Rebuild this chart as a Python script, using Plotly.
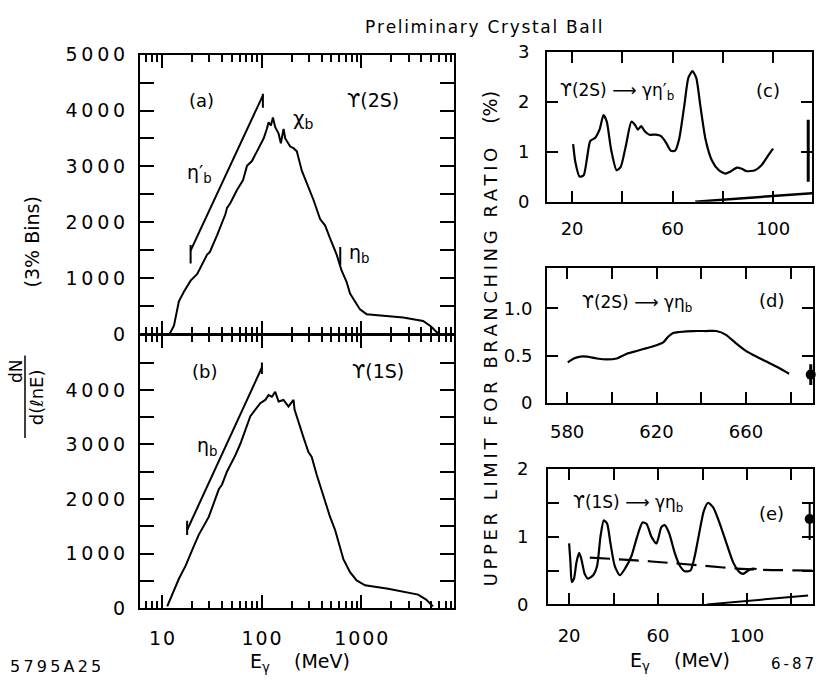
import plotly.graph_objects as go

W, H = 817, 688

# ---------------- data ----------------
# (a) Upsilon(2S) inclusive photon spectrum
a_E = [11.9, 13.2, 14.8, 16.6, 19.4, 22.6, 28.4, 30.2, 35.7, 43.3, 45, 48.6, 56.6, 65, 71.3,
       80, 89.8, 104.7, 113, 117.5, 124, 129.8, 137, 148, 156, 166, 172.6, 193.6, 209, 225.5,
       253, 284, 331, 386, 434, 486, 566, 635, 713, 771, 865, 970, 1130, 1660, 2630, 4170, 5010, 5890]
a_N = [0, 155, 590, 760, 960, 1078, 1424, 1470, 1770, 2145, 2261, 2348, 2578, 2751, 3010,
       3097, 3270, 3500, 3673, 3789, 3732, 3875, 3702, 3587, 3413, 3673, 3500, 3356, 3327, 3270,
       2924, 2694, 2405, 2059, 1943, 1713, 1424, 1137, 935, 730, 590, 445, 360, 330, 300, 240, 140, 15]
# (b) Upsilon(1S) inclusive photon spectrum
b_E = [11.3, 12.2, 14.8, 17.3, 19.4, 20.9, 23.4, 24.9, 29.5, 37.2, 40.1, 45, 54.6, 61.2, 68.7,
       77.1, 86.5, 97, 108.9, 117.5, 126.8, 137, 148, 166, 186, 209, 214, 234, 263, 295, 318,
       357, 401, 433, 486, 546, 620, 661, 771, 898, 1090, 1860, 3720, 4470, 5250]
b_N = [35, 185, 540, 780, 1020, 1138, 1345, 1434, 1673, 2179, 2268, 2505, 2804, 3013, 3280,
       3518, 3637, 3755, 3816, 3905, 3875, 3964, 3786, 3816, 3696, 3816, 3638, 3398, 3130, 2863, 2773,
       2446, 2148, 1970, 1673, 1434, 1100, 900, 660, 510, 420, 357, 250, 160, 35]
# search-range indicators
a_range_E = [19.4, 103]
a_range_N = [1495, 4270]
b_range_E = [17.9, 100.7]
b_range_N = [1434, 4410]
a_etab_mark_E = [615, 615]
a_etab_mark_N = [1245, 1560]

# (c) Upsilon(2S) -> gamma eta_b'
c_E = [20.4, 21.3, 23, 24.6, 25.9, 27.2, 29.2, 30.9, 32.5, 33.8, 35.5, 37.7, 39.3, 41.4, 43.6,
       45, 46.2, 47.5, 48.9, 50.8, 53.4, 55.4, 57.4, 59.3, 61, 62.6, 64.6, 66.3, 67.9, 69.4,
       71.1, 73.1, 75.7, 78.4, 81, 83, 85.6, 87.5, 89.5, 92.8, 95.4, 98, 100]
c_BR = [1.15, 0.79, 0.5, 0.53, 0.86, 1.21, 1.28, 1.44, 1.73, 1.6, 1.05, 0.63, 0.69, 1.12, 1.6,
        1.54, 1.44, 1.51, 1.41, 1.34, 1.34, 1.31, 1.18, 1.02, 1.02, 1.25, 1.9, 2.48, 2.61, 2.48,
        1.9, 1.25, 0.82, 0.63, 0.56, 0.6, 0.68, 0.66, 0.61, 0.63, 0.73, 0.92, 1.06]
c_theory_E = [69, 115.5]
c_theory_BR = [0.0, 0.17]
c_bar_E = [114, 114]
c_bar_BR = [0.4, 1.64]

# (d) Upsilon(2S) -> gamma eta_b
d_E = [580.3, 583, 585.9, 588.9, 593.3, 597.8, 602.2, 606.7, 611.1, 615.6, 620, 623, 625.2, 627.4,
       630.4, 636.3, 642.2, 646.7, 651.1, 655.6, 660, 663, 668.9, 674.8, 679.3]
d_BR = [0.43, 0.47, 0.49, 0.49, 0.47, 0.46, 0.47, 0.52, 0.55, 0.58, 0.61, 0.64, 0.70, 0.74,
        0.75, 0.76, 0.76, 0.76, 0.72, 0.63, 0.55, 0.51, 0.44, 0.37, 0.31]
d_pt_E = [689]
d_pt_BR = [0.30]
d_pt_err = [0.11]

# (e) Upsilon(1S) -> gamma eta_b
e_E = [20, 20.6, 21.2, 22.2, 23.3, 24.5, 25.5, 27, 28.5, 30.8, 32.6, 34.1, 35.6, 37.1, 38.6,
       40.5, 42.8, 45, 48, 50.6, 53, 54.8, 57, 59.3, 61.5, 63, 65, 67.5, 69.8, 72,
       74.6, 76.5, 78.8, 80.6, 82.5, 84.8, 87.8, 90.8, 93.8, 96.5, 98.3, 100.5, 102.8, 104.3]
e_BR = [0.9, 0.62, 0.33, 0.38, 0.62, 0.76, 0.67, 0.45, 0.38, 0.43, 0.57, 1.0, 1.24, 1.19, 0.9,
        0.57, 0.43, 0.52, 0.71, 1.0, 1.21, 1.19, 1.0, 0.9, 1.14, 1.17, 1.05, 0.76, 0.57, 0.49,
        0.5, 0.71, 1.1, 1.38, 1.5, 1.43, 1.19, 0.9, 0.62, 0.48, 0.45, 0.5, 0.53, 0.52]
e_dash_E = [29.3, 50, 70, 100, 129.7]
e_dash_BR = [0.69, 0.65, 0.6, 0.52, 0.5]
e_theory_E = [82, 127.5]
e_theory_BR = [0.0, 0.13]
e_pt_E = [128.2]
e_pt_BR = [1.26]
e_pt_up = [0.22]
e_pt_dn = [0.31]

# tick labels
left_y_vals = [0, 500, 1000, 1500, 2000, 2500, 3000, 3500, 4000, 4500, 5000]
left_x_vals = [10, 100, 1000]
left_x_minor = [6, 7, 8, 9] + [k * 10 for k in range(2, 10)] + [k * 100 for k in range(2, 10)] + [k * 1000 for k in range(2, 10)]
c_xvals, c_yvals = [20, 40, 60, 80, 100], [0, 1, 2, 3]
d_xvals, d_yvals = [580, 600, 620, 640, 660, 680], [0, 0.5, 1.0]
e_xvals, e_yvals = [20, 40, 60, 80, 100, 120], [0, 0.5, 1, 1.5, 2]

FONT = "DejaVu Sans"
TS = "\u2009"   # thin space
HS = "\u200a"   # hair space


def spaced(s, sep=TS):
    return sep.join(s)


def xd(x0, x1):
    return [x0 / W, x1 / W]


def yd(y0, y1):
    return [1 - y1 / H, 1 - y0 / H]


fig = go.Figure()
line = dict(color="black", width=2)

# left panels
fig.add_trace(go.Scatter(x=a_E, y=a_N, mode="lines", line=line, xaxis="x", yaxis="y"))
fig.add_trace(go.Scatter(x=b_E, y=b_N, mode="lines", line=line, xaxis="x2", yaxis="y2"))
fig.add_trace(go.Scatter(x=a_range_E, y=a_range_N, mode="lines", line=line, xaxis="x", yaxis="y",
                         error_y=dict(type="data", array=[100, 30], arrayminus=[230, 220],
                                      width=0, thickness=2, color="black")))
fig.add_trace(go.Scatter(x=b_range_E, y=b_range_N, mode="lines", line=line, xaxis="x2", yaxis="y2",
                         error_y=dict(type="data", array=[170, 90], arrayminus=[90, 120],
                                      width=0, thickness=2, color="black")))
fig.add_trace(go.Scatter(x=a_etab_mark_E, y=a_etab_mark_N, mode="lines", line=line, xaxis="x", yaxis="y"))

# right panels
spl = dict(color="black", width=2.2, shape="spline", smoothing=0.6)
fig.add_trace(go.Scatter(x=c_E, y=c_BR, mode="lines", line=spl, xaxis="x3", yaxis="y3"))
fig.add_trace(go.Scatter(x=c_theory_E, y=c_theory_BR, mode="lines", line=dict(color="black", width=2.5),
                         xaxis="x3", yaxis="y3"))
fig.add_trace(go.Scatter(x=c_bar_E, y=c_bar_BR, mode="lines", line=dict(color="black", width=3),
                         xaxis="x3", yaxis="y3", cliponaxis=False))

fig.add_trace(go.Scatter(x=d_E, y=d_BR, mode="lines", line=spl, xaxis="x4", yaxis="y4"))
fig.add_trace(go.Scatter(x=d_pt_E, y=d_pt_BR, mode="markers", marker=dict(color="black", size=10),
                         error_y=dict(type="data", array=d_pt_err, width=0, thickness=3, color="black"),
                         xaxis="x4", yaxis="y4", cliponaxis=False))

fig.add_trace(go.Scatter(x=e_E, y=e_BR, mode="lines", line=spl, xaxis="x5", yaxis="y5"))
fig.add_trace(go.Scatter(x=e_dash_E, y=e_dash_BR, mode="lines",
                         line=dict(color="black", width=2.2, dash="20px,9px", shape="spline"),
                         xaxis="x5", yaxis="y5"))
fig.add_trace(go.Scatter(x=e_theory_E, y=e_theory_BR, mode="lines", line=dict(color="black", width=2),
                         xaxis="x5", yaxis="y5"))
fig.add_trace(go.Scatter(x=e_pt_E, y=e_pt_BR, mode="markers", marker=dict(color="black", size=10),
                         error_y=dict(type="data", array=e_pt_up, arrayminus=e_pt_dn, width=0, thickness=2, color="black"),
                         xaxis="x5", yaxis="y5", cliponaxis=False))

common = dict(showline=True, linecolor="black", linewidth=2, mirror="allticks", ticks="inside",
              tickcolor="black", tickwidth=2, showgrid=False, zeroline=False,
              tickfont=dict(family=FONT, size=18, color="black"))
left_font = dict(family=FONT, size=19, color="black")

left_y_text = [spaced(str(v)) if v % 1000 == 0 else "" for v in left_y_vals]
left_x_common = dict(common, type="log", range=[0.78, 3.93], tickmode="array", tickvals=left_x_vals,
                     ticklen=13, tickfont=left_font,
                     minor=dict(tickmode="array", tickvals=left_x_minor, ticks="inside", ticklen=7,
                                tickwidth=1.5, tickcolor="black"))

layout = dict(
    width=W, height=H, margin=dict(l=0, r=0, t=0, b=0), showlegend=False,
    paper_bgcolor="white", plot_bgcolor="white",
    xaxis=dict(left_x_common, domain=xd(140, 454), anchor="y", showticklabels=False),
    yaxis=dict(common, domain=yd(45, 334), anchor="x", range=[0, 5000], tickmode="array", tickfont=left_font,
               tickvals=left_y_vals, ticktext=left_y_text, ticklen=14, ticklabelstandoff=9),
    xaxis2=dict(left_x_common, domain=xd(140, 454), anchor="y2",
                ticktext=[spaced(str(v), HS) for v in left_x_vals], ticklabelstandoff=12),
    yaxis2=dict(common, domain=yd(335, 617), anchor="x2", range=[0, 5000], tickmode="array", tickfont=left_font,
                tickvals=left_y_vals[:-1], ticktext=left_y_text[:-1], ticklen=14, ticklabelstandoff=9),
    xaxis3=dict(common, domain=xd(547, 812), anchor="y3", range=[10, 115.5], tickmode="array",
                tickvals=c_xvals, ticktext=["20", "", "60", "", "100"], ticklen=11, ticklabelstandoff=10),
    yaxis3=dict(common, domain=yd(42, 197), anchor="x3", range=[0, 3], tickmode="array",
                tickvals=c_yvals, ticktext=["0", "1", "2", "3"], ticklen=11, ticklabelstandoff=12),
    xaxis4=dict(common, domain=xd(547, 813), anchor="y4", range=[571, 690], tickmode="array",
                tickvals=d_xvals, ticktext=["580", "", "620", "", "660", ""], ticklen=11, ticklabelstandoff=11),
    yaxis4=dict(common, domain=yd(266, 405), anchor="x4", range=[0, 1.42], tickmode="array",
                tickvals=d_yvals, ticktext=["0", "0.5", "1.0"], ticklen=11, ticklabelstandoff=9),
    xaxis5=dict(common, domain=xd(548, 813), anchor="y5", range=[10.5, 129.7], tickmode="array",
                tickvals=e_xvals, ticktext=["20", "", "60", "", "100", ""], ticklen=11, ticklabelstandoff=14),
    yaxis5=dict(common, domain=yd(473, 613), anchor="x5", range=[0, 2], tickmode="array",
                tickvals=e_yvals, ticktext=["0", "", "1", "", "2"], ticklen=11, ticklabelstandoff=14),
)
fig.update_layout(**layout)


def ann(x, y, text, size=17, angle=0, xanchor="center"):
    fig.add_annotation(x=x / W, y=1 - y / H, xref="paper", yref="paper", text=text, showarrow=False,
                       textangle=angle, xanchor=xanchor, yanchor="middle",
                       font=dict(family=FONT, size=size, color="black"))


ann(484, 17, spaced("Preliminary Crystal Ball", HS), 17)
ann(201, 92, "(a)", 18)
ann(373, 92, "ϒ(2S)", 19)
ann(303, 112, "χ<sub>b</sub>", 20)
ann(199, 168, "η′<sub>b</sub>", 19)
ann(359, 250, "η<sub>b</sub>", 19)
ann(204, 372, "(b)", 18)
ann(378, 372, "ϒ(1S)", 19)
ann(207, 450, "η<sub>b</sub>", 19)

ann(617, 83, "ϒ(2S) ⟶ γη′<sub>b</sub>", 17)
ann(768, 82, "(c)", 18)
ann(637, 302, "ϒ(2S) ⟶ γη<sub>b</sub>", 17)
ann(771, 299, "(d)", 18)
ann(628, 509, "ϒ(1S) ⟶ γη<sub>b</sub>", 17)
ann(771, 519, "(e)", 18)

ann(32, 238, "(3% Bins)", 19, -90)
ann(16, 372, "dN", 17, -90)
ann(36, 399, "d(ℓnE)", 18, -90)
fig.add_shape(type="line", xref="paper", yref="paper", x0=25 / W, x1=25 / W, y0=1 - 356 / H, y1=1 - 441 / H,
              line=dict(color="black", width=1.5))

ann(490, 368, spaced("UPPER LIMIT FOR BRANCHING RATIO"), 18, -90)
ann(490, 100, "(%)", 19, -90)

ann(55, 677, spaced("5795A25"), 16)
ann(300, 673, "E<sub>γ</sub>    (MeV)", 19)
ann(680, 672, "E<sub>γ</sub>    (MeV)", 19)
ann(816, 675, spaced("6-87"), 15, xanchor="right")

fig.write_html("out.html")
